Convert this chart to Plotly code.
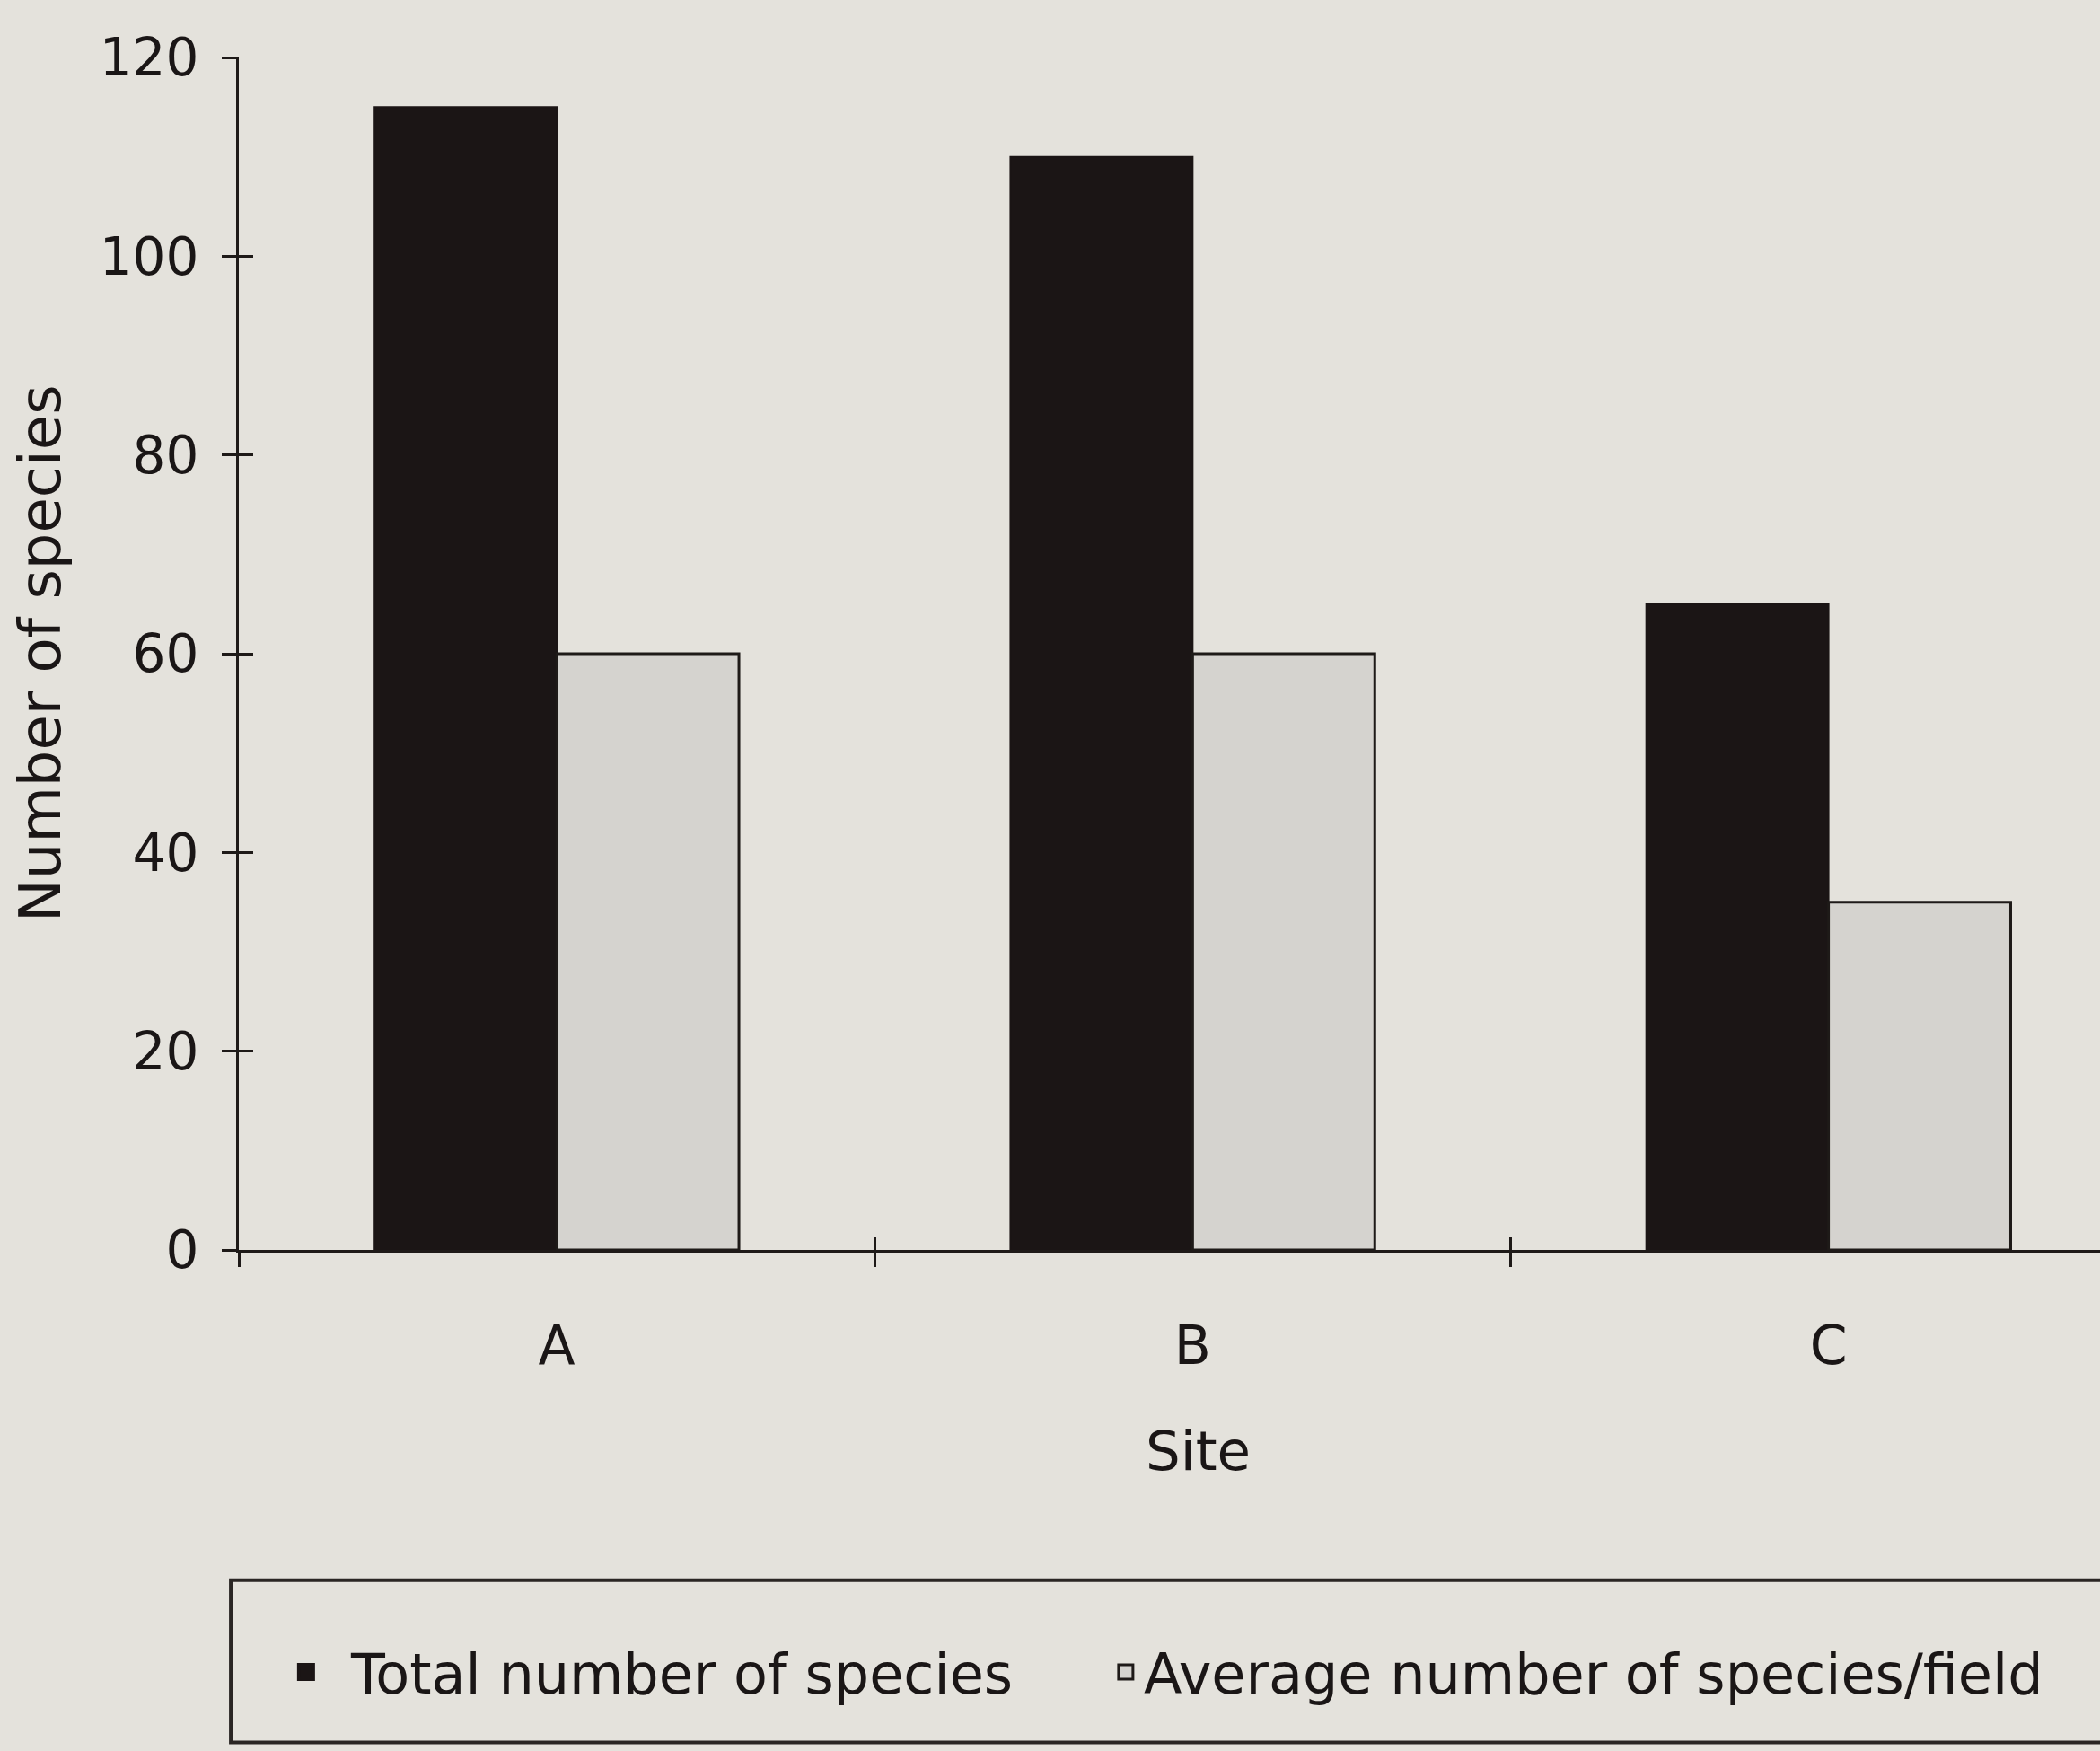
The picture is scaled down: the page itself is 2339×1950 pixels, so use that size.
import plotly.graph_objects as go

sites = ["A", "B", "C"]
total_species = [115, 110, 65]
average_species = [60, 60, 35]
y_ticks = [0, 20, 40, 60, 80, 100, 120]
series_names = ["Total number of species", "Average number of species/field"]

BG = "#e4e2dc"
INK = "#1e1a18"
BLACK_BAR = "#1b1515"
GREY_BAR = "#d5d3cf"
FONT = "DejaVu Sans"

fig = go.Figure()
fig.add_trace(go.Bar(
    x=sites, y=total_species, name=series_names[0], showlegend=False,
    marker=dict(color=BLACK_BAR, line=dict(color=BLACK_BAR, width=2)),
))
fig.add_trace(go.Bar(
    x=sites, y=average_species, name=series_names[1], showlegend=False,
    marker=dict(color=GREY_BAR, line=dict(color=INK, width=3)),
))
# legend entries (square markers, no data points drawn)
fig.add_trace(go.Scatter(x=[None], y=[None], mode="markers", name=series_names[0],
                         legend="legend",
                         marker=dict(symbol="square", size=16, color=BLACK_BAR,
                                     line=dict(color=BLACK_BAR, width=4))))
fig.add_trace(go.Scatter(x=[None], y=[None], mode="markers", name=series_names[1],
                         legend="legend2",
                         marker=dict(symbol="square", size=16, color=GREY_BAR,
                                     line=dict(color=INK, width=3))))
# invisible helper trace on overlay axes for cross ticks
fig.add_trace(go.Scatter(x=sites, y=[0, 0, 0], xaxis="x2", yaxis="y2",
                         mode="none", showlegend=False, hoverinfo="skip"))

legend_common = dict(orientation="h", y=-0.354, xanchor="left", yanchor="middle",
                     font=dict(size=62, family=FONT, color="#1a1616"),
                     bgcolor="rgba(0,0,0,0)", borderwidth=0)

fig.update_layout(
    width=2339, height=1950,
    paper_bgcolor=BG, plot_bgcolor=BG,
    margin=dict(l=266, r=0, t=64, b=558),
    barmode="group", bargap=0.427, bargroupgap=0,
    font=dict(family=FONT, color="#1a1616", size=58),
    showlegend=True,
    legend=dict(x=0.012, itemwidth=90, **legend_common),
    legend2=dict(x=0.4669, itemwidth=30, **legend_common),
    xaxis=dict(type="category", range=[-0.5, 2.427], showline=True, linecolor=INK,
               linewidth=3, ticks="outside", ticklen=16, tickwidth=2.5, tickcolor=INK,
               tickson="boundaries", showgrid=False, zeroline=False,
               ticklabelstandoff=52, tickfont=dict(size=60)),
    yaxis=dict(range=[0, 120], tickvals=y_ticks, showline=True, linecolor=INK,
               linewidth=3, ticks="outside", ticklen=16, tickwidth=2.5, tickcolor=INK,
               showgrid=False, zeroline=False, ticklabelstandoff=14,
               tickfont=dict(size=58)),
    xaxis2=dict(type="category", overlaying="x", range=[-0.5, 2.427],
                ticks="inside", ticklen=14, tickwidth=2.5, tickcolor=INK,
                tickson="boundaries", showticklabels=False, showline=False,
                showgrid=False, zeroline=False, anchor="y2", side="bottom"),
    yaxis2=dict(overlaying="y", range=[0, 120], tickvals=y_ticks, ticks="inside",
                ticklen=16, tickwidth=2.5, tickcolor=INK, showticklabels=False,
                showline=False, showgrid=False, zeroline=False, anchor="x2", side="left"),
)

fig.add_annotation(text="Site", x=1, xref="x", y=-0.168, yref="paper", xshift=6,
                   showarrow=False, font=dict(size=61, family=FONT), yanchor="middle")
fig.add_annotation(text="Number of species", textangle=-90, x=-0.1066, xref="paper",
                   y=0.5, yref="paper", showarrow=False, xanchor="center", yanchor="middle",
                   font=dict(size=64, family=FONT))

# legend frame
fig.add_shape(type="rect", xref="paper", yref="paper", x0=-0.0043, x1=1.01,
              y0=-0.413, y1=-0.277, line=dict(color="#2a2624", width=4),
              fillcolor="rgba(0,0,0,0)", layer="below")

fig.write_html("out.html")
